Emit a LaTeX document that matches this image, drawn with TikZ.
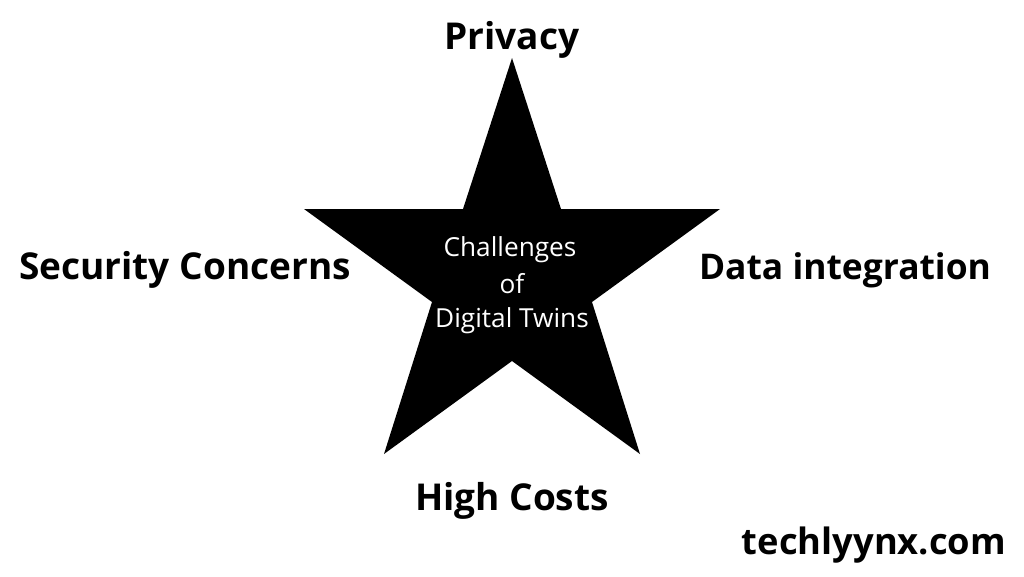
\documentclass[tikz,border=0pt]{standalone}
\usepackage{fontspec}
\setmainfont{Open Sans}
\begin{document}
\begin{tikzpicture}[x=1pt,y=-1pt,
 big/.style={inner sep=0pt,font=\fontsize{37}{42}\selectfont\bfseries,text=black},
 bigdata/.style={big,font=\fontsize{35.4}{42}\selectfont\bfseries},
 bigsite/.style={big,font=\fontsize{36.3}{42}\selectfont\bfseries},
 small/.style={inner sep=0pt,font=\fontsize{26.2}{30}\selectfont,text=white}]
\useasboundingbox (0,0) rectangle (1024,576);
\fill[white] (0,0) rectangle (1024,576);
\fill[black] (512,58) -- (561,209) -- (720,209) -- (592,302) -- (640,454) -- (512,361) -- (384,454) -- (432,302) -- (304,209) -- (463,209) -- cycle;
\node[big] (privacy) at (512,40) {Privacy};
\node[big] (security) at (185,270) {Security Concerns};
\node[bigdata] (data) at (845,270) {Data integration};
\node[big] (costs) at (512,501) {High Costs};
\node[bigsite] (site) at (874,545) {techlyynx.com};
\node[small] (c1) at (510,250) {Challenges};
\node[small] (c2) at (512,284) {of};
\node[small] (c3) at (512,321) {Digital Twins};
\end{tikzpicture}
\end{document}
